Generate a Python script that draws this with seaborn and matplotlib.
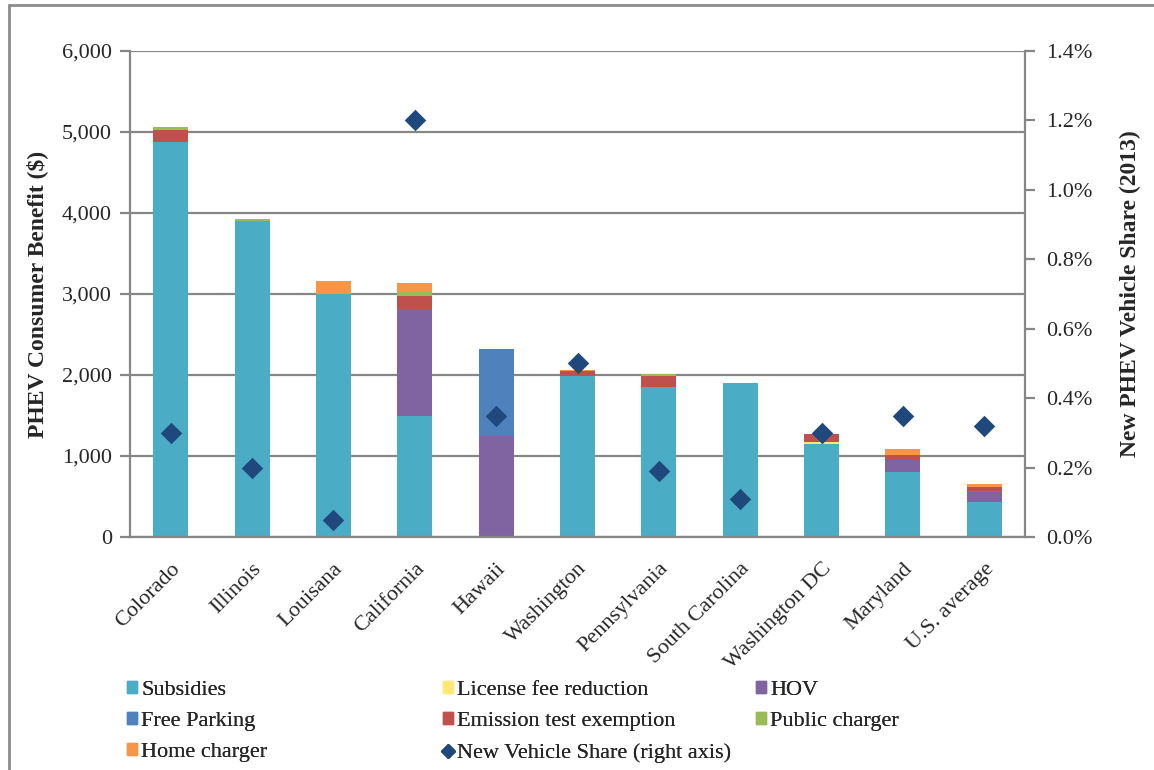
import numpy as np
import matplotlib
matplotlib.use("Agg")
import matplotlib.pyplot as plt
from matplotlib.patches import Patch
from matplotlib.lines import Line2D
from matplotlib.ticker import FuncFormatter, MultipleLocator
import seaborn as sns

# data
states = ["Colorado", "Illinois", "Louisana", "California", "Hawaii", "Washington",
          "Pennsylvania", "South Carolina", "Washington DC", "Maryland", "U.S. average"]
subsidies = [4875, 3900, 3000, 1500, 0, 1990, 1850, 1900, 1150, 800, 430]
license_fee = [0, 0, 0, 0, 0, 0, 0, 0, 20, 0, 0]
hov = [0, 0, 0, 1310, 1250, 0, 0, 0, 0, 150, 125]
free_parking = [0, 0, 0, 0, 1070, 0, 0, 0, 0, 0, 10]
emission = [150, 0, 0, 170, 0, 55, 135, 0, 105, 60, 50]
public_charger = [40, 30, 0, 45, 0, 0, 25, 0, 0, 0, 0]
home_charger = [0, 0, 160, 105, 0, 20, 0, 0, 0, 75, 35]
share = [0.30, 0.20, 0.05, 1.20, 0.35, 0.50, 0.19, 0.11, 0.30, 0.35, 0.32]

layer_names = ["Subsidies", "License fee reduction", "HOV", "Free Parking",
               "Emission test exemption", "Public charger", "Home charger"]
layer_values = [subsidies, license_fee, hov, free_parking, emission,
                public_charger, home_charger]
layer_colors = ["#4BACC6", "#FFE974", "#8064A2", "#4F81BD",
                "#C0504D", "#9BBB59", "#F79646"]
share_label = "New Vehicle Share (right axis)"
marker_color = "#1F497D"
grid_gray = "#868686"

sns.set_style("white")
plt.rcParams["font.family"] = ["Liberation Serif", "DejaVu Serif"]

fig = plt.figure(figsize=(11.54, 7.7), dpi=100)
ax = fig.add_axes([130 / 1154, 1 - 537 / 770, 895 / 1154, 486 / 770])

# stacked bars: draw cumulative totals from the top layer down
cum = np.cumsum(np.array(layer_values), axis=0)
for i in range(len(layer_names) - 1, -1, -1):
    sns.barplot(x=states, y=cum[i], color=layer_colors[i], saturation=1,
                width=0.43, ax=ax, linewidth=0)

ax.set_xlim(-0.5, len(states) - 0.5)
ax.set_ylim(0, 6000)
ax.yaxis.set_major_locator(MultipleLocator(1000))
ax.yaxis.set_major_formatter(FuncFormatter(lambda v, p: f"{v:,.0f}"))
ax.grid(axis="y", color=grid_gray, linewidth=1.6)
ax.set_axisbelow(True)
for s in ["left", "bottom", "right"]:
    ax.spines[s].set_color(grid_gray)
    ax.spines[s].set_linewidth(1.6)
ax.spines["top"].set_visible(False)

ax.set_xticks(np.arange(len(states)))
ax.set_xticklabels(states, rotation=45, ha="right", rotation_mode="anchor",
                   fontsize=16)
ax.set_xticks(np.arange(-0.5, len(states)), minor=True)
ax.tick_params(axis="x", which="major", length=0, pad=16)
ax.tick_params(axis="x", which="minor", length=7, width=1.6, color=grid_gray)
ax.tick_params(axis="y", length=7, width=1.6, color=grid_gray, labelsize=16,
               left=True, pad=6)
ax.set_xlabel("")
ax.set_ylabel("PHEV Consumer Benefit ($)", fontsize=17, fontweight="bold",
              labelpad=10)

# right axis: new vehicle share
ax2 = ax.twinx()
sns.scatterplot(x=np.arange(len(states)), y=share, marker="D", s=120,
                color=marker_color, edgecolor=marker_color, linewidth=0,
                ax=ax2, zorder=5)
ax2.set_ylim(0, 1.4)
ax2.yaxis.set_major_locator(MultipleLocator(0.2))
ax2.yaxis.set_major_formatter(FuncFormatter(lambda v, p: f"{v:.1f}%"))
ax2.tick_params(axis="y", length=7, width=1.6, color=grid_gray, labelsize=16,
                right=True, pad=8)
for s in ["left", "bottom", "right", "top"]:
    ax2.spines[s].set_visible(False)
ax2.set_ylabel("New PHEV Vehicle Share (2013)", fontsize=17, fontweight="bold",
               labelpad=20)

# legend: three separate columns so their x positions match the original
patches = [Patch(color=c) for c in layer_colors]
share_handle = Line2D([], [], marker="D", linestyle="", color=marker_color,
                      markersize=7)
columns = [
    ([patches[0], patches[3], patches[6]], [layer_names[0], layer_names[3], layer_names[6]], 118),
    ([patches[1], patches[4], share_handle], [layer_names[1], layer_names[4], share_label], 434),
    ([patches[2], patches[5]], [layer_names[2], layer_names[5]], 747),
]
for hs, ls, x0 in columns:
    leg = fig.legend(hs, ls, loc="upper left",
                     bbox_to_anchor=(x0 / 1154, 1 - 672 / 770), frameon=False,
                     fontsize=16, handlelength=0.45, handleheight=0.45,
                     handletextpad=0.2, labelspacing=0.55, borderaxespad=0)
    fig.add_artist(leg)

# image frame lines
fig.add_artist(Line2D([9 / 1154, 1], [1 - 5 / 770, 1 - 5 / 770],
                      transform=fig.transFigure, color="#8c8c8c", linewidth=2))
fig.add_artist(Line2D([9 / 1154, 9 / 1154], [0, 1 - 5 / 770],
                      transform=fig.transFigure, color="#8c8c8c", linewidth=2))

fig.savefig("out.png", dpi=100)
